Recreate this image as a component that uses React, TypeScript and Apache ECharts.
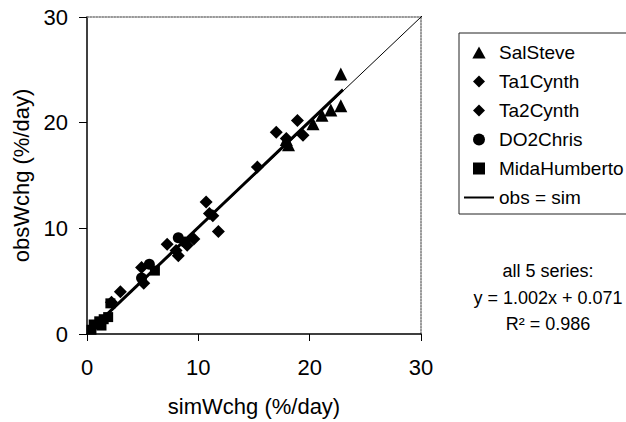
import React, { useEffect, useRef } from "react";
import * as echarts from "echarts";

const xTicks = [0, 10, 20, 30];
const axisMin = 0;
const axisMax = 30;
const axisInterval = 10;
const xAxisName = "simWchg (%/day)";
const yAxisName = "obsWchg (%/day)";

const salSteve = [
  [18.1, 17.9], [17.9, 18.4], [20.3, 19.9], [21.1, 20.7], [21.9, 21.2], [22.8, 21.6], [22.8, 24.6],
];
const ta1Cynth = [
  [15.3, 15.8], [17.0, 19.1], [18.9, 20.2], [19.4, 18.8], [17.9, 18.5], [10.7, 12.5], [11.3, 11.2], [11.8, 9.7],
];
const ta2Cynth = [
  [7.2, 8.5], [8.2, 7.4], [8.0, 7.9], [9.6, 9.0], [9.0, 8.4], [4.9, 6.3], [5.1, 4.8], [3.0, 4.0], [2.2, 3.0], [11.0, 11.4],
];
const do2Chris = [
  [8.2, 9.1], [8.8, 8.7], [5.6, 6.6], [4.9, 5.3],
];
const midaHumberto = [
  [0.4, 0.4], [0.6, 0.9], [1.1, 1.2], [1.5, 1.4], [1.9, 1.6], [1.3, 0.8], [6.1, 6.0], [2.1, 2.9],
];
const oneToOne = [[-0.3, -0.3], [30.8, 30.8]];
const trendLine = [[0.3, 0.37], [23.0, 23.12]];

const annotationLines = ["all 5 series:", "y = 1.002x + 0.071", "R² = 0.986"];

const FONT = "'Liberation Sans', Arial, sans-serif";

const ICON_TRIANGLE = "path://M5,0 L10,9 L0,9 Z";
const ICON_DIAMOND = "path://M5,0 L10,5 L5,10 L0,5 Z";
const ICON_CIRCLE = "path://M0,5 A5,5 0 1,1 10,5 A5,5 0 1,1 0,5 Z";
const ICON_SQUARE = "path://M0,0 L10,0 L10,10 L0,10 Z";

export default function App() {
  const ref = useRef<HTMLDivElement>(null);
  useEffect(() => {
    if (!ref.current) return;
    const chart = echarts.init(ref.current, undefined, { renderer: "svg" });
    const markerSeries = (name: string, data: number[][], symbol: string, size: number) => ({
      name,
      type: "scatter",
      data,
      symbol,
      symbolSize: size,
      itemStyle: { color: "#000", opacity: 1 },
      z: 3,
    });
    chart.setOption({
      animation: false,
      backgroundColor: "#fff",
      textStyle: { fontFamily: FONT },
      grid: { left: 87, right: 205, top: 17, bottom: 80 },
      xAxis: [
        {
          type: "value",
          min: axisMin,
          max: axisMax,
          interval: axisInterval,
          name: xAxisName,
          nameLocation: "middle",
          nameGap: 61,
          nameTextStyle: { fontSize: 22, color: "#000", fontFamily: FONT },
          axisLine: { show: true, onZero: false, lineStyle: { color: "#000", width: 1.5 } },
          axisTick: { show: true, length: 7, lineStyle: { color: "#000" } },
          axisLabel: {
            fontSize: 22,
            color: "#000",
            margin: 22,
            fontFamily: FONT,
            formatter: (v: number) => (xTicks.includes(v) ? String(v) : ""),
          },
          splitLine: { show: false },
        },
        {
          type: "value",
          position: "top",
          min: axisMin,
          max: axisMax,
          interval: axisInterval,
          axisLine: { show: true, onZero: false, lineStyle: { color: "#777", type: "dotted", width: 1.5 } },
          axisTick: { show: false },
          axisLabel: { show: false },
          splitLine: { show: false },
        },
      ],
      yAxis: [
        {
          type: "value",
          min: axisMin,
          max: axisMax,
          interval: axisInterval,
          name: yAxisName,
          nameLocation: "middle",
          nameGap: 52,
          nameTextStyle: { fontSize: 22, color: "#000", fontFamily: FONT },
          axisLine: { show: true, onZero: false, lineStyle: { color: "#000", width: 1.5 } },
          axisTick: { show: true, length: 8, lineStyle: { color: "#000" } },
          axisLabel: { fontSize: 22, color: "#000", margin: 19, fontFamily: FONT },
          splitLine: { show: false },
        },
        {
          type: "value",
          position: "right",
          min: axisMin,
          max: axisMax,
          interval: axisInterval,
          axisLine: { show: true, onZero: false, lineStyle: { color: "#777", type: "dotted", width: 1.5 } },
          axisTick: { show: false },
          axisLabel: { show: false },
          splitLine: { show: false },
        },
      ],
      legend: {
        orient: "vertical",
        left: 459,
        top: 33,
        padding: [10, 9, 7, 4],
        itemWidth: 30,
        itemHeight: 12,
        itemGap: 10,
        symbolKeepAspect: true,
        borderColor: "#222",
        borderWidth: 1,
        borderRadius: 0,
        selectedMode: false,
        textStyle: { fontSize: 19, color: "#000", fontFamily: FONT },
        data: [
          { name: "SalSteve", icon: ICON_TRIANGLE },
          { name: "Ta1Cynth", icon: ICON_DIAMOND },
          { name: "Ta2Cynth", icon: ICON_DIAMOND },
          { name: "DO2Chris", icon: ICON_CIRCLE },
          { name: "MidaHumberto", icon: ICON_SQUARE },
          { name: "obs = sim", itemStyle: { opacity: 0 } },
        ],
      },
      graphic: annotationLines.map((t, i) => ({
        type: "text",
        x: 548,
        y: [271, 298, 324][i],
        style: {
          text: t,
          fontSize: 18,
          fontFamily: FONT,
          fill: "#000",
          textAlign: "center",
          textVerticalAlign: "middle",
          verticalAlign: "middle",
        },
      })),
      series: [
        markerSeries("SalSteve", salSteve, "triangle", 13),
        markerSeries("Ta1Cynth", ta1Cynth, "diamond", 13),
        markerSeries("Ta2Cynth", ta2Cynth, "diamond", 13),
        markerSeries("DO2Chris", do2Chris, "circle", 11),
        markerSeries("MidaHumberto", midaHumberto, "rect", 10),
        {
          name: "obs = sim",
          type: "line",
          data: oneToOne,
          symbol: "none",
          clip: false,
          lineStyle: { color: "#000", width: 1 },
          itemStyle: { color: "#000" },
          z: 2,
        },
        {
          name: "trend",
          type: "line",
          data: trendLine,
          symbol: "none",
          lineStyle: { color: "#000", width: 3 },
          z: 2,
        },
      ],
    });
    return () => chart.dispose();
  }, []);
  return (
    <div
      ref={ref}
      style={{ position: "fixed", left: 0, top: 0, width: 626, height: 422, background: "#fff" }}
    />
  );
}
